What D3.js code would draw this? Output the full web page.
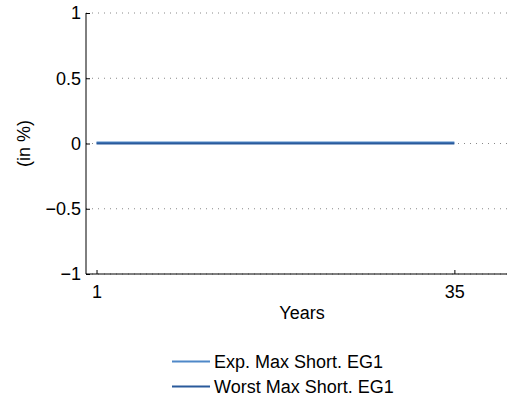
<!DOCTYPE html>
<html>
<head>
<meta charset="utf-8">
<script src="https://cdn.jsdelivr.net/npm/d3@7/dist/d3.min.js"></script>
<style>
  html, body { margin: 0; padding: 0; background: #fff; }
  svg { display: block; font-family: "Liberation Sans", Arial, Helvetica, sans-serif; }
</style>
</head>
<body>
<svg id="chart" width="512" height="403"></svg>
<script>
// Shortfall series (in %) over the projection years
const years = d3.range(1, 36);
const expMaxShort = years.map(() => 0);
const worstMaxShort = years.map(() => 0);
const seriesNames = ["Exp. Max Short. EG1", "Worst Max Short. EG1"];
const seriesColors = ["#4f88c8", "#2a5a9b"];
const xTicks = [1, 35];
const yTicks = [-1, -0.5, 0, 0.5, 1];

const FONT = 18;
const svg = d3.select("#chart");
const margin = { left: 86, right: 5, top: 13, bottom: 129 };
const W = 512, H = 403;

const x = d3.scaleLinear().domain([0, 40]).range([margin.left, W - margin.right]);
const y = d3.scaleLinear().domain([-1, 1]).range([H - margin.bottom, margin.top]);

// dotted horizontal grid
svg.append("g")
  .selectAll("line")
  .data(yTicks)
  .join("line")
  .attr("x1", x(0)).attr("x2", x(40))
  .attr("y1", d => y(d)).attr("y2", d => y(d))
  .attr("stroke", "#888")
  .attr("stroke-width", 1)
  .attr("stroke-dasharray", "1,5");

// y axis with inward ticks
const yAxis = svg.append("g")
  .attr("transform", `translate(${x(0)},0)`)
  .call(d3.axisRight(y).tickValues(yTicks).tickSize(4)
    .tickFormat(d => d === 0 ? "0" : (d < 0 ? "\u2212" + Math.abs(d) : String(d))));
yAxis.select(".domain").attr("d", `M0,${y(-1)}V${y(1)}`).attr("stroke", "#000");
yAxis.selectAll(".tick line").attr("stroke", "#000");
yAxis.selectAll(".tick text")
  .attr("x", -5).attr("text-anchor", "end")
  .attr("font-size", FONT).attr("fill", "#000")
  .attr("font-family", "Liberation Sans, Arial, sans-serif");

// x axis with inward ticks
const xAxis = svg.append("g")
  .attr("transform", `translate(0,${y(-1)})`)
  .call(d3.axisTop(x).tickValues(xTicks).tickSize(4).tickFormat(d3.format("d")));
xAxis.select(".domain").attr("d", `M${x(0)},0H${x(40)}`).attr("stroke", "#000");
xAxis.selectAll(".tick line").attr("stroke", "#000");
xAxis.selectAll(".tick text")
  .attr("y", 18).attr("dy", "0.35em")
  .attr("font-size", FONT).attr("fill", "#000")
  .attr("font-family", "Liberation Sans, Arial, sans-serif");

// series lines
const line = d3.line().x((d, i) => x(years[i])).y(d => y(d));
[expMaxShort, worstMaxShort].forEach((vals, k) => {
  svg.append("path")
    .datum(vals)
    .attr("fill", "none")
    .attr("stroke", seriesColors[k])
    .attr("stroke-width", 2)
    .attr("transform", k === 0 ? "translate(0,-1)" : null)
    .attr("d", line);
});

// axis titles
svg.append("text")
  .attr("x", 302).attr("y", 319)
  .attr("text-anchor", "middle").attr("font-size", FONT)
  .text("Years");
svg.append("text")
  .attr("transform", `translate(30,${y(0)}) rotate(-90)`)
  .attr("text-anchor", "middle").attr("font-size", FONT)
  .text("(in %)");

// legend
const legend = svg.append("g");
seriesNames.forEach((name, k) => {
  const ly = 361.5 + k * 25;
  legend.append("line")
    .attr("x1", 172).attr("x2", 210)
    .attr("y1", ly).attr("y2", ly)
    .attr("stroke", seriesColors[k]).attr("stroke-width", 2);
  legend.append("text")
    .attr("x", 214).attr("y", ly).attr("dy", "0.35em")
    .attr("font-size", FONT)
    .text(name);
});
</script>
</body>
</html>
